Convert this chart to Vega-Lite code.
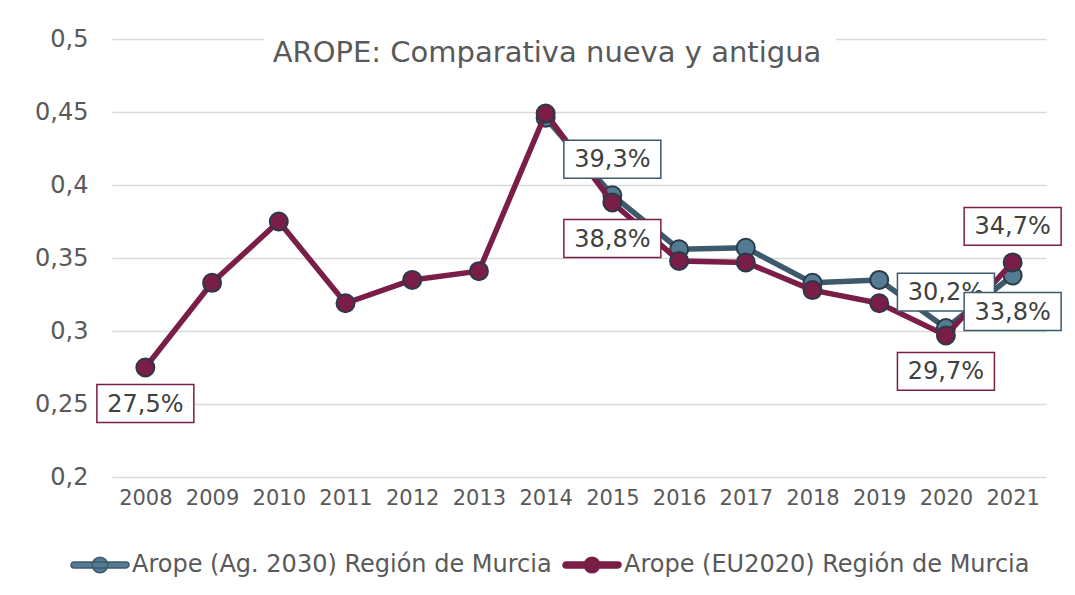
{
  "$schema": "https://vega.github.io/schema/vega-lite/v6.json",
  "autosize": {"type": "none"},
  "width": 934,
  "height": 438,
  "padding": {"left": 112, "top": 39, "right": 29, "bottom": 118},
  "background": "white",
  "title": {
    "text": "AROPE: Comparativa nueva y antigua",
    "anchor": "middle",
    "frame": "group",
    "fontSize": 29,
    "font": "DejaVu Sans",
    "fontWeight": "normal",
    "color": "#595959",
    "baseline": "alphabetic",
    "offset": -22,
    "dx": -32,
    "dy": 42
  },
  "config": {
    "font": "DejaVu Sans",
    "view": {"stroke": null},
    "locale": {"number": {"decimal": ",", "thousands": ".", "grouping": [3], "currency": ["", " €"]}}
  },
  "data": {
    "values": [
      {"year": "2008", "series": "Arope (EU2020) Región de Murcia", "value": 0.275},
      {"year": "2009", "series": "Arope (EU2020) Región de Murcia", "value": 0.333},
      {"year": "2010", "series": "Arope (EU2020) Región de Murcia", "value": 0.375},
      {"year": "2011", "series": "Arope (EU2020) Región de Murcia", "value": 0.319},
      {"year": "2012", "series": "Arope (EU2020) Región de Murcia", "value": 0.335},
      {"year": "2013", "series": "Arope (EU2020) Región de Murcia", "value": 0.341},
      {"year": "2014", "series": "Arope (EU2020) Región de Murcia", "value": 0.449},
      {"year": "2015", "series": "Arope (EU2020) Región de Murcia", "value": 0.388},
      {"year": "2016", "series": "Arope (EU2020) Región de Murcia", "value": 0.348},
      {"year": "2017", "series": "Arope (EU2020) Región de Murcia", "value": 0.347},
      {"year": "2018", "series": "Arope (EU2020) Región de Murcia", "value": 0.328},
      {"year": "2019", "series": "Arope (EU2020) Región de Murcia", "value": 0.319},
      {"year": "2020", "series": "Arope (EU2020) Región de Murcia", "value": 0.297},
      {"year": "2021", "series": "Arope (EU2020) Región de Murcia", "value": 0.347},
      {"year": "2014", "series": "Arope (Ag. 2030) Región de Murcia", "value": 0.446},
      {"year": "2015", "series": "Arope (Ag. 2030) Región de Murcia", "value": 0.393},
      {"year": "2016", "series": "Arope (Ag. 2030) Región de Murcia", "value": 0.356},
      {"year": "2017", "series": "Arope (Ag. 2030) Región de Murcia", "value": 0.357},
      {"year": "2018", "series": "Arope (Ag. 2030) Región de Murcia", "value": 0.333},
      {"year": "2019", "series": "Arope (Ag. 2030) Región de Murcia", "value": 0.335},
      {"year": "2020", "series": "Arope (Ag. 2030) Región de Murcia", "value": 0.302},
      {"year": "2021", "series": "Arope (Ag. 2030) Región de Murcia", "value": 0.338}
    ]
  },
  "encoding": {
    "x": {
      "field": "year", "type": "ordinal",
      "scale": {"type": "point", "padding": 0.5},
      "axis": {"title": null, "labelAngle": 0, "domain": false, "ticks": false, "labelFontSize": 21, "labelColor": "#595959", "labelPadding": 10, "grid": false}
    },
    "y": {
      "field": "value", "type": "quantitative",
      "scale": {"domain": [0.2, 0.5], "nice": false, "zero": false},
      "axis": {"title": null, "values": [0.2, 0.25, 0.3, 0.35, 0.4, 0.45, 0.5], "format": ".2~f", "domain": false, "ticks": false, "labelFontSize": 24, "labelColor": "#595959", "labelPadding": 24, "grid": true, "gridColor": "#d9d9d9", "gridWidth": 1.5}
    }
  },
  "layer": [
    {
      "mark": {"type": "rect", "fill": "white", "x2Offset": -44, "xOffset": -14},
      "encoding": {
        "x": {"datum": "2010", "type": "ordinal"},
        "x2": {"datum": "2019"},
        "y": {"datum": 0.497, "type": "quantitative"},
        "y2": {"datum": 0.503}
      }
    },
    {
      "transform": [{"filter": "datum.series === 'Arope (Ag. 2030) Región de Murcia'"}],
      "mark": {"type": "line", "strokeWidth": 5.5, "strokeJoin": "round", "strokeCap": "round"},
      "encoding": {
        "stroke": {"field": "series", "type": "nominal",
          "scale": {"domain": ["Arope (Ag. 2030) Región de Murcia", "Arope (EU2020) Región de Murcia"], "range": ["#3d5a6c", "#7a1e48"]}}
      }
    },
    {
      "transform": [{"filter": "datum.series === 'Arope (Ag. 2030) Región de Murcia'"}],
      "mark": {"type": "point", "filled": true, "opacity": 1, "size": 324, "stroke": "#2b3a4a", "strokeWidth": 2, "shape": "circle"},
      "encoding": {
        "fill": {"field": "series", "type": "nominal",
          "scale": {"domain": ["Arope (Ag. 2030) Región de Murcia", "Arope (EU2020) Región de Murcia"], "range": ["#537c93", "#7a1e48"]},
          "legend": {
            "orient": "none", "legendX": -42, "legendY": 496, "direction": "horizontal", "title": null,
            "labelFontSize": 24, "labelColor": "#595959", "labelLimit": 800, "labelOffset": 2, "columnPadding": 8,
            "symbolType": "M-0.9,-0.1H0.9A0.1,0.1,0,0,1,0.9,0.1H-0.9A0.1,0.1,0,0,1,-0.9,-0.1Z M0.27,0A0.27,0.27,0,1,1,-0.27,0A0.27,0.27,0,1,1,0.27,0Z",
            "symbolSize": 3364, "symbolStrokeWidth": 1.5, "symbolOpacity": 1
          }
        }
      }
    },
    {
      "transform": [{"filter": "datum.series === 'Arope (EU2020) Región de Murcia'"}],
      "mark": {"type": "line", "strokeWidth": 5.5, "strokeJoin": "round", "strokeCap": "round"},
      "encoding": {
        "stroke": {"field": "series", "type": "nominal"}
      }
    },
    {
      "transform": [{"filter": "datum.series === 'Arope (EU2020) Región de Murcia'"}],
      "mark": {"type": "point", "filled": true, "opacity": 1, "size": 324, "stroke": "#2b3a4a", "strokeWidth": 2, "shape": "circle"},
      "encoding": {
        "fill": {"field": "series", "type": "nominal"}
      }
    },
    {
      "transform": [{"filter": "(datum.series === 'Arope (Ag. 2030) Región de Murcia' && (datum.year === '2015' || datum.year === '2020')) || (datum.series === 'Arope (EU2020) Región de Murcia' && datum.year === '2021')"}],
      "mark": {"type": "point", "filled": true, "fill": "white", "opacity": 1, "strokeWidth": 1.5, "size": 9409, "shape": "M-1,-0.39H1V0.39H-1Z", "yOffset": -36},
      "encoding": {"stroke": {"field": "series", "type": "nominal"}}
    },
    {
      "transform": [{"filter": "(datum.series === 'Arope (Ag. 2030) Región de Murcia' && (datum.year === '2015' || datum.year === '2020')) || (datum.series === 'Arope (EU2020) Región de Murcia' && datum.year === '2021')"}],
      "mark": {"type": "text", "fontSize": 24, "color": "#404040", "baseline": "middle", "yOffset": -35},
      "encoding": {"text": {"field": "value", "type": "quantitative", "format": ".1%"}}
    },
    {
      "transform": [{"filter": "datum.series === 'Arope (EU2020) Región de Murcia' && (datum.year === '2008' || datum.year === '2015' || datum.year === '2020')"}],
      "mark": {"type": "point", "filled": true, "fill": "white", "opacity": 1, "strokeWidth": 1.5, "size": 9409, "shape": "M-1,-0.39H1V0.39H-1Z", "yOffset": 36},
      "encoding": {"stroke": {"field": "series", "type": "nominal"}}
    },
    {
      "transform": [{"filter": "datum.series === 'Arope (EU2020) Región de Murcia' && (datum.year === '2008' || datum.year === '2015' || datum.year === '2020')"}],
      "mark": {"type": "text", "fontSize": 24, "color": "#404040", "baseline": "middle", "yOffset": 37},
      "encoding": {"text": {"field": "value", "type": "quantitative", "format": ".1%"}}
    },
    {
      "transform": [{"filter": "datum.series === 'Arope (Ag. 2030) Región de Murcia' && datum.year === '2021'"}],
      "mark": {"type": "point", "filled": true, "fill": "white", "opacity": 1, "strokeWidth": 1.5, "size": 9409, "shape": "M-1,-0.39H1V0.39H-1Z", "yOffset": 36},
      "encoding": {"stroke": {"field": "series", "type": "nominal"}}
    },
    {
      "transform": [{"filter": "datum.series === 'Arope (Ag. 2030) Región de Murcia' && datum.year === '2021'"}],
      "mark": {"type": "text", "fontSize": 24, "color": "#404040", "baseline": "middle", "yOffset": 37},
      "encoding": {"text": {"field": "value", "type": "quantitative", "format": ".1%"}}
    }
  ]
}
